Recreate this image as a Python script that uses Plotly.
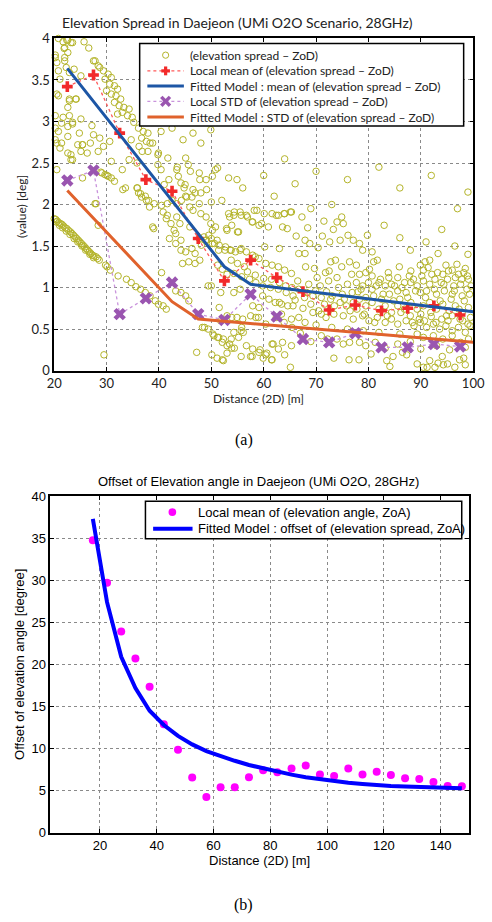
import plotly.graph_objects as go

W, H = 492, 922

# ---------------- (a) elevation spread, ZoD ----------------
# scattered measurements (distance [m], spread [deg]), grouped by distance range
spread_near = [
    (20.8, 4.00), (21.7, 3.96), (22.6, 3.98), (23.2, 3.95), (22.0, 3.89), (22.6, 3.83), (20.2, 3.77),
    (20.5, 3.71), (22.0, 3.73), (22.3, 3.65), (21.1, 3.51), (22.9, 3.59), (23.8, 3.63), (25.1, 3.55),
    (20.5, 3.33), (20.8, 3.31), (22.9, 3.25), (24.1, 3.27), (20.2, 3.07), (21.7, 3.05), (21.4, 2.98),
    (22.9, 3.07), (23.5, 2.99), (25.1, 3.03), (20.2, 2.92), (20.8, 2.88), (20.2, 2.78), (20.5, 2.74),
    (21.4, 2.74), (21.1, 2.68), (22.6, 2.82), (24.5, 2.72), (25.4, 2.72), (25.1, 2.64), (22.6, 2.62),
    (23.2, 2.60), (23.5, 2.54), (20.5, 2.42), (25.4, 2.32), (22.4, 3.98), (23.5, 3.95), (25.7, 3.96),
    (27.5, 3.73), (28.4, 3.67), (20.2, 3.80), (21.9, 3.88), (22.0, 3.77), (20.8, 3.61),
    (20.0, 1.83), (20.3, 1.82), (20.6, 1.80), (20.9, 1.78), (21.2, 1.77), (21.5, 1.76), (21.8, 1.74),
    (22.1, 1.72), (22.4, 1.71), (22.7, 1.69), (23.1, 1.67), (23.4, 1.65), (23.7, 1.63), (24.0, 1.61),
    (24.3, 1.59), (24.6, 1.57), (24.9, 1.55), (25.2, 1.53), (25.5, 1.51), (25.8, 1.49), (26.1, 1.47),
    (26.4, 1.45), (26.7, 1.43), (27.0, 1.41), (27.3, 1.39), (27.6, 1.38), (28.0, 1.37), (28.3, 1.35),
    (28.6, 1.33), (29.8, 1.27), (30.1, 1.25), (30.7, 1.21), (20.4, 1.79), (21.0, 1.75), (21.6, 1.72),
    (22.3, 1.68), (23.0, 1.64), (23.8, 1.59), (24.5, 1.55), (25.3, 1.50), (26.0, 1.45), (26.8, 1.40),
    (27.5, 1.36), (29.5, 0.19),
]

spread_mid = [
    (26.6, 3.885), (27.8, 3.73), (28.7, 3.65), (29.4, 3.61), (30.3, 3.57), (30.9, 3.53), (29.7, 3.51),
    (30.6, 3.45), (31.5, 3.43), (32.1, 3.39), (30.0, 3.37), (30.9, 3.33), (31.8, 3.31), (32.7, 3.27),
    (31.5, 3.23), (32.4, 3.19), (33.3, 3.17), (34.3, 3.15), (33.0, 3.11), (34.0, 3.07), (34.9, 3.05),
    (32.1, 3.09), (35.2, 2.99), (36.1, 2.92), (37.0, 2.88), (37.9, 2.86), (36.7, 2.80), (37.6, 2.76),
    (38.8, 2.74), (22.9, 3.27), (24.2, 3.27), (22.6, 3.17), (22.6, 2.94), (23.5, 2.97), (27.2, 2.95),
    (27.5, 2.84), (28.7, 2.80), (29.4, 2.70), (28.4, 2.64), (25.4, 2.72), (26.3, 2.62), (26.9, 2.74),
    (30.6, 2.76), (24.8, 2.86), (23.2, 2.54), (30.9, 2.52), (33.0, 2.42), (34.3, 2.54), (35.8, 2.50),
    (37.9, 2.64), (39.8, 2.60), (39.8, 2.48), (40.4, 2.42), (29.1, 2.38), (29.7, 2.36), (30.3, 2.34),
    (30.9, 2.32), (31.5, 2.28), (28.9, 2.39), (30.1, 2.35), (33.6, 2.20), (35.8, 2.20), (36.1, 2.14),
    (36.7, 2.09), (37.6, 2.05), (38.2, 1.97), (39.1, 2.01), (41.6, 2.01), (42.5, 2.05), (43.4, 2.01),
    (44.3, 2.05), (45.3, 2.09), (45.9, 1.97), (46.5, 1.93), (47.7, 2.01), (48.0, 1.89), (49.0, 1.85),
    (49.9, 1.77), (50.2, 1.69), (51.1, 1.57), (27.8, 2.01), (28.4, 1.75), (44.0, 1.77), (45.9, 1.73),
    (43.4, 1.85), (41.6, 1.87), (38.8, 1.73), (41.0, 2.24), (41.9, 2.30), (43.7, 2.34), (45.0, 2.24),
    (46.5, 2.18), (48.0, 2.14), (49.0, 2.30), (50.2, 2.34), (43.4, 2.42), (45.6, 2.48), (47.7, 2.38),
    (50.8, 2.42), (40.4, 2.88), (42.5, 2.92), (44.6, 2.78), (46.5, 2.86), (48.0, 2.74), (49.9, 2.90),
    (34.7, 2.78), (36.2, 2.70), (36.8, 2.64), (38.3, 2.74), (39.9, 2.62), (41.7, 2.56), (43.5, 2.45),
    (45.1, 2.56), (46.0, 2.40), (47.8, 2.30), (46.9, 2.14), (44.8, 2.20), (44.2, 2.26), (45.1, 2.10),
    (46.3, 2.09), (49.1, 2.18), (50.0, 2.03), (51.2, 2.44), (53.3, 2.32), (54.9, 2.30), (35.9, 2.20),
    (36.5, 2.13), (38.0, 2.05), (37.4, 2.10), (33.1, 2.18), (28.0, 2.01), (39.0, 1.71), (40.5, 1.99),
    (40.8, 1.91), (41.4, 1.83), (42.3, 1.77), (42.9, 1.69), (43.2, 1.65), (44.2, 1.57), (42.0, 1.59),
    (43.2, 1.53), (44.2, 1.45), (45.1, 1.43), (46.3, 1.47), (46.9, 1.41), (47.8, 1.33), (46.9, 1.29),
    (45.7, 1.31), (48.1, 1.51), (49.1, 1.57), (50.0, 1.59), (50.6, 1.53), (51.5, 1.51), (52.7, 1.49),
    (53.6, 1.45), (54.6, 1.43), (55.5, 1.45), (56.7, 1.43), (57.9, 1.39), (59.1, 1.35), (60.4, 1.29),
    (61.6, 1.27), (62.8, 1.25), (64.0, 1.21), (65.3, 1.17), (53.3, 1.89), (54.3, 1.87), (55.5, 1.91),
    (56.7, 1.87), (57.9, 1.79), (59.1, 1.75), (58.2, 1.93), (60.1, 1.89), (61.6, 1.89), (62.8, 1.87),
    (64.0, 1.89), (65.3, 1.91), (53.9, 1.75), (55.2, 1.67), (53.0, 1.69), (44.5, 1.29),
    (51.2, 1.27), (52.1, 1.22), (53.0, 1.16), (54.3, 1.17), (55.8, 1.13), (57.3, 1.10), (58.5, 1.06),
    (59.8, 1.02), (61.3, 1.00), (62.8, 0.98), (64.3, 0.94), (65.6, 0.90), (59.8, 0.90), (61.0, 0.86),
    (62.2, 0.82), (63.4, 0.80), (64.6, 0.78), (65.6, 0.78), (57.9, 0.78), (59.1, 0.76),
    (32.2, 1.14), (33.8, 1.10), (34.7, 1.06), (35.6, 1.01), (36.5, 0.98), (37.4, 0.94), (38.3, 0.90),
    (39.3, 0.84), (39.9, 0.80), (40.8, 0.78), (41.4, 0.74), (43.2, 0.96), (44.2, 0.94), (45.1, 0.90),
    (45.7, 0.84), (40.5, 1.18), (49.4, 1.02), (50.0, 1.02), (51.8, 0.94), (54.3, 0.94), (55.5, 0.98),
    (48.7, 0.52), (49.4, 0.50), (50.3, 0.44), (51.2, 0.40), (52.1, 0.34), (53.0, 0.30), (53.9, 0.27),
    (55.2, 0.40), (56.1, 0.46), (56.7, 0.30), (57.9, 0.26), (59.1, 0.22), (60.4, 0.19), (61.6, 0.13),
    (52.1, 0.13), (53.0, 0.21), (47.2, 0.22), (54.3, 0.46), (55.8, 0.52), (51.5, 0.76), (51.8, 0.60),
    (53.0, 0.66), (53.9, 0.64), (54.9, 0.64), (58.5, 0.64), (60.4, 0.56), (61.6, 0.32), (62.8, 0.26),
    (64.0, 0.19), (65.3, 0.30), (63.4, 0.68), (65.3, 0.62),
]

spread_far = [
    (53.5, 1.85), (54.4, 1.91), (55.7, 1.87), (56.9, 1.85), (57.8, 1.79), (58.7, 1.93), (59.6, 1.77),
    (60.9, 1.73), (62.4, 1.87), (63.9, 1.89), (65.1, 1.91), (67.3, 1.85), (63.6, 1.73), (64.5, 1.71),
    (55.0, 1.67), (52.9, 1.71), (50.8, 1.73), (48.6, 1.61), (49.5, 1.63), (67.9, 1.57), (68.8, 1.53),
    (66.7, 1.41), (67.9, 1.41), (63.0, 1.47), (60.2, 1.49), (58.4, 1.37), (55.7, 1.47), (53.8, 1.45),
    (52.6, 1.45), (74.0, 1.79), (74.9, 1.85), (75.2, 1.77), (76.1, 1.63), (74.6, 1.57), (77.1, 1.57),
    (78.3, 1.53), (79.8, 1.63), (80.7, 1.43), (78.9, 1.45), (81.7, 1.33), (81.0, 1.31), (72.5, 1.20),
    (69.7, 1.23), (72.8, 1.31), (73.7, 1.33), (74.9, 1.25), (76.4, 1.31), (77.7, 1.27), (76.8, 1.16),
    (78.3, 1.16), (79.5, 1.18), (80.7, 1.14), (82.3, 1.10), (83.8, 1.18), (85.0, 1.02), (86.9, 1.06),
    (88.1, 1.20), (89.9, 1.27), (90.8, 1.31), (91.7, 1.33), (93.3, 1.41), (94.8, 1.27), (96.0, 1.21),
    (97.2, 1.16), (98.5, 1.23), (99.1, 1.10),
    (47.7, 1.59), (48.9, 1.57), (50.2, 1.53), (51.4, 1.45), (53.8, 1.33), (55.0, 1.29), (56.3, 1.25),
    (56.9, 1.19), (58.4, 1.15), (60.0, 1.11), (61.5, 1.10), (63.0, 1.06), (64.2, 1.02), (65.4, 1.00),
    (66.7, 0.98), (68.2, 0.94), (69.4, 0.90), (71.0, 0.88), (72.8, 0.86), (74.6, 0.82), (75.8, 0.78),
    (77.1, 0.82), (78.3, 0.86), (79.5, 0.78), (80.7, 0.82), (82.0, 0.74), (83.2, 0.78), (84.4, 0.70),
    (85.6, 0.78), (86.9, 0.74), (88.1, 0.82), (89.3, 0.74), (90.5, 0.78), (91.7, 0.82), (93.0, 0.74),
    (94.2, 0.80), (95.4, 0.72), (96.6, 0.78), (97.9, 0.70), (99.1, 0.76),
    (88.1, 1.06), (89.3, 1.02), (90.5, 1.08), (91.7, 1.04), (92.7, 1.10), (93.9, 1.06), (95.1, 1.10),
    (96.3, 1.02), (97.6, 1.04), (98.8, 0.98), (89.9, 0.94), (91.1, 0.96), (93.0, 0.92), (94.5, 0.96),
    (96.0, 0.92), (97.9, 0.90), (82.0, 1.06), (83.2, 1.02), (84.4, 1.04), (85.6, 0.96), (87.2, 0.94),
    (80.7, 0.98), (78.9, 1.02), (77.7, 1.06), (85.6, 1.12), (87.8, 1.14), (90.5, 1.21), (92.1, 1.16),
    (94.2, 1.16), (96.6, 1.12), (98.2, 1.18),
    (71.0, 0.68), (71.9, 0.64), (73.4, 0.68), (75.2, 0.66), (77.1, 0.62), (78.9, 0.66), (80.1, 0.60),
    (81.7, 0.64), (83.2, 0.58), (84.4, 0.62), (85.6, 0.56), (87.2, 0.60), (88.7, 0.54), (89.9, 0.58),
    (91.1, 0.52), (92.4, 0.56), (93.6, 0.50), (94.8, 0.54), (96.0, 0.48), (97.2, 0.52), (98.5, 0.46),
    (99.4, 0.54), (89.3, 0.44), (90.5, 0.40), (92.4, 0.42), (94.2, 0.38), (96.0, 0.42), (97.6, 0.34),
    (99.1, 0.38), (78.3, 0.34), (79.5, 0.30), (81.3, 0.34), (83.2, 0.27), (85.6, 0.32), (74.0, 0.38),
    (75.2, 0.32), (76.4, 0.34), (71.0, 0.42), (72.2, 0.38),
    (50.1, 0.19), (51.1, 0.15), (52.3, 0.12), (57.8, 0.17), (59.9, 0.15), (61.5, 0.13), (65.1, 0.04),
    (73.4, 0.15), (76.3, 0.13), (78.2, 0.13), (83.5, 0.12), (84.1, 0.05), (84.7, 0.17), (87.3, 0.19),
    (89.3, 0.08), (90.5, 0.04), (91.2, 0.04), (91.7, 0.12), (92.7, 0.04), (93.3, 0.09), (94.1, 0.17),
    (94.3, 0.07), (95.1, 0.08), (96.5, 0.04), (97.4, 0.13), (98.5, 0.07), (98.2, 0.15),
    (48.3, 0.52), (51.4, 0.40), (52.3, 0.38), (53.8, 0.38), (55.7, 0.48), (56.0, 0.62), (57.5, 0.66),
    (59.0, 0.64), (62.4, 0.64), (63.9, 0.58), (65.4, 0.52), (66.7, 0.64), (67.9, 0.58), (69.4, 0.70),
    (63.0, 0.82), (50.5, 0.42), (53.5, 0.32), (54.4, 0.27), (55.7, 0.17), (57.5, 0.17), (59.3, 0.25),
    (60.6, 0.21), (61.8, 0.32), (63.6, 0.34),
    (66.0, 0.85), (67.5, 0.75), (69.0, 0.80), (70.5, 0.72), (72.0, 0.95), (73.5, 0.78), (75.0, 0.92),
    (76.5, 0.72), (78.0, 0.95), (79.5, 0.88), (81.0, 0.90), (82.5, 0.86), (84.0, 0.92), (86.0, 0.86),
    (88.0, 0.66), (90.0, 0.68), (92.0, 0.65), (94.0, 0.62), (96.0, 0.66), (98.0, 0.60), (99.5, 0.64),
    (67.0, 0.45), (69.0, 0.35), (70.0, 0.55), (73.0, 0.52), (76.0, 0.50), (79.0, 0.48), (82.0, 0.46),
    (86.0, 0.44), (88.0, 0.35), (90.0, 0.26), (93.0, 0.30), (95.5, 0.25), (98.5, 0.28), (86.5, 0.22),
    (80.5, 0.20),
    (52.0, 2.05), (56.0, 2.20), (60.0, 2.35), (62.0, 2.10), (64.0, 2.55), (66.0, 2.25), (70.0, 2.40),
    (73.0, 2.00), (76.0, 2.30), (82.0, 2.45), (86.0, 2.20), (92.0, 2.35), (97.0, 1.95), (99.0, 2.15),
    (69.0, 1.95), (71.5, 1.80), (83.0, 1.75), (86.0, 1.60), (88.0, 1.45), (91.0, 1.55), (94.0, 1.70),
    (96.5, 1.50), (99.0, 1.40),
]

# the dense cloud beyond 65 m
spread_dense = [
    (80.2, 1.22), (81.5, 1.02), (82.8, 0.92), (83.9, 1.12), (84.8, 0.84), (85.9, 1.25), (86.4, 1.00),
    (87.5, 0.88), (88.6, 1.10), (89.0, 0.96), (89.7, 0.62), (90.2, 1.14), (90.9, 0.88), (91.4, 1.24),
    (91.9, 0.70), (92.6, 0.98), (93.2, 1.18), (93.7, 0.84), (94.4, 1.04), (94.9, 0.66), (95.3, 1.20),
    (95.8, 0.86), (96.4, 0.96), (96.9, 1.28), (97.3, 0.74), (97.8, 1.10), (98.3, 0.84), (98.9, 1.14),
    (99.3, 0.92), (99.6, 1.02), (81.2, 0.58), (83.6, 0.66), (86.2, 0.70), (88.4, 0.58), (90.7, 0.60),
    (92.9, 0.58), (95.2, 0.60), (97.5, 0.62), (99.0, 0.56), (66.5, 1.08), (67.8, 0.88), (68.6, 1.04),
    (69.9, 0.96), (70.8, 1.02), (71.6, 0.80), (72.4, 1.08), (73.1, 0.90), (74.3, 1.00), (75.4, 0.86),
    (76.0, 1.04), (76.9, 0.94), (77.8, 0.74), (78.6, 0.98), (79.2, 0.68), (80.0, 1.06), (68.0, 1.25),
    (70.2, 1.12), (71.8, 1.18), (74.0, 1.12), (66.2, 1.62), (68.4, 1.72), (70.4, 1.48), (71.2, 1.62),
    (72.6, 1.55), (73.3, 1.70),
]

# local statistics per 5 m bin
bin_dist = [22.5, 27.5, 32.5, 37.5, 42.5, 47.5, 52.5, 57.5, 62.5, 67.5, 72.5, 77.5, 82.5, 87.5, 92.5, 97.5]
local_mean = [3.42, 3.56, 2.86, 2.30, 2.16, 1.59, 1.08, 1.33, 1.12, 0.95, 0.73, 0.79, 0.72, 0.75, 0.78, 0.67]
local_std = [2.29, 2.41, 0.68, 0.87, 1.06, 0.68, 0.61, 0.92, 0.65, 0.38, 0.34, 0.45, 0.28, 0.28, 0.32, 0.29]

# fitted piecewise models
fit_mean_dist = [22.5, 52.5, 57.5, 100.0]
fit_mean_val = [3.64, 1.25, 1.04, 0.71]
fit_std_dist = [22.5, 42.5, 47.5, 100.0]
fit_std_val = [2.17, 0.83, 0.62, 0.34]

top_x_ticks = [20, 30, 40, 50, 60, 70, 80, 90, 100]

# ---------------- (b) elevation angle offset, ZoA ----------------
offset_dist = [17.5, 22.5, 27.5, 32.5, 37.5, 42.5, 47.5, 52.5, 57.5, 62.5, 67.5, 72.5, 77.5, 82.5,
               87.5, 92.5, 97.5, 102.5, 107.5, 112.5, 117.5, 122.5, 127.5, 132.5, 137.5, 142.5, 147.5]
offset_mean = [34.75, 29.7, 23.9, 20.7, 17.35, 12.9, 9.85, 6.55, 4.25, 5.4, 5.4, 6.6, 7.43, 7.2,
               7.62, 8.0, 6.92, 6.73, 7.62, 6.92, 7.24, 6.85, 6.46, 6.38, 6.03, 5.56, 5.52]
offset_fit = [37.3, 27.4, 20.9, 17.2, 14.5, 12.8, 11.5, 10.5, 9.7, 9.1, 8.55, 8.05, 7.65, 7.25,
              6.9, 6.6, 6.35, 6.15, 5.95, 5.8, 5.65, 5.55, 5.48, 5.42, 5.36, 5.32, 5.28]
bot_x_ticks = [20, 40, 60, 80, 100, 120, 140]

TOP_FONT = "Lato"
BOT_FONT = "Liberation Sans"
TOP_TXT = "#222222"

C_SPREAD = "#b4b42a"
C_MEAN_PT, C_MEAN_LN = "#f22a2a", "#ff5a5a"
C_FIT_MEAN = "#1d56a5"
C_STD_PT, C_STD_LN = "#9a55b0", "#c993dc"
C_FIT_STD = "#e0622c"
C_OFF_PT, C_OFF_FIT = "#ff00ff", "#0000ff"

spread_pts = spread_near + spread_mid + spread_far + spread_dense
spread_dist = [p[0] for p in spread_pts]
spread_val = [p[1] for p in spread_pts]

fig = go.Figure()

fig.add_trace(go.Scatter(
    x=spread_dist, y=spread_val, mode="markers", name="(elevation spread – ZoD)",
    marker=dict(symbol="circle-open", size=6.5, color=C_SPREAD, line=dict(width=1)),
    cliponaxis=False, xaxis="x", yaxis="y"))
fig.add_trace(go.Scatter(
    x=bin_dist, y=local_mean, mode="lines+markers", name="Local mean of (elevation spread – ZoD)",
    line=dict(color=C_MEAN_LN, dash="dot", width=1.3),
    marker=dict(symbol="cross", size=9, color=C_MEAN_PT, line=dict(width=0)),
    xaxis="x", yaxis="y"))
fig.add_trace(go.Scatter(
    x=fit_mean_dist, y=fit_mean_val, mode="lines", name="Fitted Model : mean of (elevation spread – ZoD)",
    line=dict(color=C_FIT_MEAN, width=3), xaxis="x", yaxis="y"))
fig.add_trace(go.Scatter(
    x=bin_dist, y=local_std, mode="lines+markers", name="Local STD of (elevation spread – ZoD)",
    line=dict(color=C_STD_LN, dash="dot", width=1.3),
    marker=dict(symbol="x", size=11, color=C_STD_PT, line=dict(width=0)),
    xaxis="x", yaxis="y"))
fig.add_trace(go.Scatter(
    x=fit_std_dist, y=fit_std_val, mode="lines", name="Fitted Model : STD of (elevation spread – ZoD)",
    line=dict(color=C_FIT_STD, width=3), xaxis="x", yaxis="y"))

fig.add_trace(go.Scatter(
    x=offset_dist, y=offset_mean, mode="markers", name="Local mean of (elevation angle, ZoA)",
    marker=dict(symbol="circle", size=8, color=C_OFF_PT),
    cliponaxis=False, xaxis="x2", yaxis="y2"))
fig.add_trace(go.Scatter(
    x=offset_dist, y=offset_fit, mode="lines", name="Fitted Model : offset of (elevation spread, ZoA)",
    line=dict(color=C_OFF_FIT, width=4), xaxis="x2", yaxis="y2"))


def axis_style(font, size, color):
    return dict(showline=True, linecolor="black", linewidth=1.5, mirror="ticks",
                ticks="inside", ticklen=4, tickwidth=1, tickcolor="black",
                showgrid=True, gridcolor="#8a8a8a", griddash="dot", gridwidth=1,
                zeroline=False, ticklabeloverflow="allow",
                tickfont=dict(family=font, size=size, color=color))


fig.update_layout(
    width=W, height=H, margin=dict(l=0, r=0, t=0, b=0),
    paper_bgcolor="white", plot_bgcolor="white", showlegend=False,
    xaxis=dict(domain=[49 / W, 485 / W], range=[19.98, 100.02], tickvals=top_x_ticks, anchor="y",
               **axis_style(TOP_FONT, 13, TOP_TXT)),
    yaxis=dict(domain=[1 - 369 / H, 1 - 31 / H], range=[0, 4], dtick=0.5, anchor="x",
               **axis_style(TOP_FONT, 13, TOP_TXT)),
    xaxis2=dict(domain=[45 / W, 480.5 / W], range=[2.5, 150], tickvals=bot_x_ticks,
                anchor="y2", **axis_style(BOT_FONT, 13, "black")),
    yaxis2=dict(domain=[1 - 839.3 / H, 1 - 496.7 / H], range=[0, 40], dtick=5, anchor="x2",
                **axis_style(BOT_FONT, 13, "black")),
)


# ---- legend boxes drawn in page pixels ----
def fx(p):
    return p / W


def fy(p):
    return 1 - p / H


shapes = []
notes = []


def seg(x0, y0, x1, y1, color, width, dash="solid"):
    shapes.append(dict(type="line", xref="paper", yref="paper", x0=fx(x0), y0=fy(y0),
                       x1=fx(x1), y1=fy(y1), layer="above",
                       line=dict(color=color, width=width, dash=dash)))


def box(x0, y0, x1, y1):
    shapes.append(dict(type="rect", xref="paper", yref="paper", x0=fx(x0), y0=fy(y1),
                       x1=fx(x1), y1=fy(y0), layer="above", fillcolor="white",
                       line=dict(color="black", width=1.5)))


def dot(cx, cy, r, color, filled):
    shapes.append(dict(type="circle", xref="paper", yref="paper", x0=fx(cx - r), y0=fy(cy + r),
                       x1=fx(cx + r), y1=fy(cy - r), layer="above",
                       fillcolor=color if filled else "rgba(0,0,0,0)",
                       line=dict(color=color, width=0 if filled else 1)))


def label(x, y, text, font, size, color):
    notes.append(dict(text=text, x=fx(x), y=fy(y), xanchor="left", yanchor="middle",
                      font=dict(family=font, size=size, color=color)))


# (a) legend
box(138, 36, 475, 120)
rows = [48, 64, 79.5, 95, 111]
lx0, lx1, lmid, ltxt = 146, 184, 165, 188
dot(lmid, rows[0], 3.2, C_SPREAD, False)
seg(lx0, rows[1], lx1, rows[1], C_MEAN_LN, 1.3, "dot")
seg(lmid - 4.5, rows[1], lmid + 4.5, rows[1], C_MEAN_PT, 3.2)
seg(lmid, rows[1] - 4.5, lmid, rows[1] + 4.5, C_MEAN_PT, 3.2)
seg(lx0, rows[2], lx1, rows[2], C_FIT_MEAN, 3)
seg(lx0, rows[3], lx1, rows[3], C_STD_LN, 1.3, "dot")
seg(lmid - 4.5, rows[3] - 4.5, lmid + 4.5, rows[3] + 4.5, C_STD_PT, 3.4)
seg(lmid - 4.5, rows[3] + 4.5, lmid + 4.5, rows[3] - 4.5, C_STD_PT, 3.4)
seg(lx0, rows[4], lx1, rows[4], C_FIT_STD, 3)
for r, t in zip(rows, [tr.name for tr in fig.data[:5]]):
    label(ltxt, r, t, TOP_FONT, 12, TOP_TXT)

# (b) legend
box(144, 502, 473, 540)
rows_b = [513, 530]
dot(172, rows_b[0], 4, C_OFF_PT, True)
seg(152, rows_b[1], 193, rows_b[1], C_OFF_FIT, 4)
for r, t in zip(rows_b, [tr.name for tr in fig.data[5:]]):
    label(197, r, t, BOT_FONT, 13, "black")

notes += [
    dict(text="Elevation Spread in Daejeon (UMi O2O Scenario, 28GHz)", x=fx(240), y=fy(15),
         font=dict(family=TOP_FONT, size=14, color=TOP_TXT)),
    dict(text="Distance (2D) [m]", x=fx(262), y=fy(397),
         font=dict(family=TOP_FONT, size=12, color=TOP_TXT)),
    dict(text="(value) [deg]", x=fx(15), y=fy(202), textangle=-90,
         font=dict(family=TOP_FONT, size=12, color=TOP_TXT)),
    dict(text="(a)", x=fx(246), y=fy(440),
         font=dict(family="Liberation Serif", size=16, color="black")),
    dict(text="Offset of Elevation angle in Daejeon (UMi O2O, 28GHz)", x=fx(262), y=fy(482),
         font=dict(family=BOT_FONT, size=13, color="black")),
    dict(text="Distance (2D) [m]", x=fx(263), y=fy(868),
         font=dict(family=BOT_FONT, size=13, color="black")),
    dict(text="Offset of elevation angle [degree]", x=fx(13), y=fy(668), textangle=-90,
         font=dict(family=BOT_FONT, size=13, color="black")),
    dict(text="(b)", x=fx(246), y=fy(913),
         font=dict(family="Liberation Serif", size=16, color="black")),
]

fig.update_layout(shapes=shapes)
for a in notes:
    a.setdefault("xanchor", "center")
    a.setdefault("yanchor", "middle")
    fig.add_annotation(xref="paper", yref="paper", showarrow=False, **a)

fig.write_html("out.html")
